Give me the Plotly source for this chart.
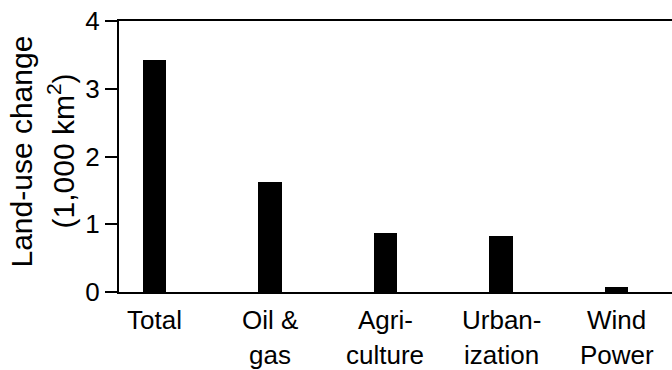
import plotly.graph_objects as go

# Land-use change by driver, in thousands of km²
categories = ["Total", "Oil &<br>gas", "Agri-<br>culture", "Urban-<br>ization", "Wind<br>Power"]
values = [3.43, 1.63, 0.87, 0.82, 0.07]
y_ticks = [0, 1, 2, 3, 4]
y_title_lines = ["Land-use change", "(1,000 km<sup>2</sup>)"]

TITLE_FONT = dict(family="Liberation Sans, Arial, sans-serif", size=30, color="black")
TICK_FONT = dict(family="Liberation Sans, Arial, sans-serif", size=26, color="black")
CAT_FONT = dict(family="Liberation Sans, Arial, sans-serif", size=26, color="black")

fig = go.Figure(
    go.Bar(
        x=list(range(len(categories))),
        y=values,
        width=0.203,
        marker=dict(color="black", line=dict(width=0)),
    )
)

# Category labels, one annotation per text line for tight line spacing
line_shifts = [-11, -46]
annotations = []
for i, cat in enumerate(categories):
    for j, part in enumerate(cat.split("<br>")):
        annotations.append(dict(
            x=i, y=0, xref="x", yref="paper", text=part, showarrow=False,
            xanchor="center", yanchor="top", yshift=line_shifts[j], font=CAT_FONT,
        ))

# Two-line rotated y-axis title
title_shifts = [-98, -58]
for j, line in enumerate(y_title_lines):
    annotations.append(dict(
        x=0, y=0.5, xref="paper", yref="paper", text=line, showarrow=False,
        textangle=-90, xanchor="center", yanchor="middle",
        xshift=title_shifts[j], yshift=5, font=TITLE_FONT,
    ))

fig.update_layout(
    width=672, height=370,
    margin=dict(l=119, r=0, t=20.5, b=77.7, pad=0),
    plot_bgcolor="white", paper_bgcolor="white",
    showlegend=False,
    bargap=0,
    annotations=annotations,
    xaxis=dict(
        range=[-0.305, 4.479],
        showticklabels=False, ticks="",
        showline=True, linecolor="black", linewidth=2, mirror=True,
        showgrid=False, zeroline=False,
    ),
    yaxis=dict(
        range=[0, 4],
        tickvals=y_ticks, ticktext=[str(v) for v in y_ticks],
        ticks="outside", ticklen=12, tickwidth=2, tickcolor="black",
        tickfont=TICK_FONT,
        showline=True, linecolor="black", linewidth=2,
        showgrid=False, zeroline=False,
    ),
)

fig.write_html("out.html")
